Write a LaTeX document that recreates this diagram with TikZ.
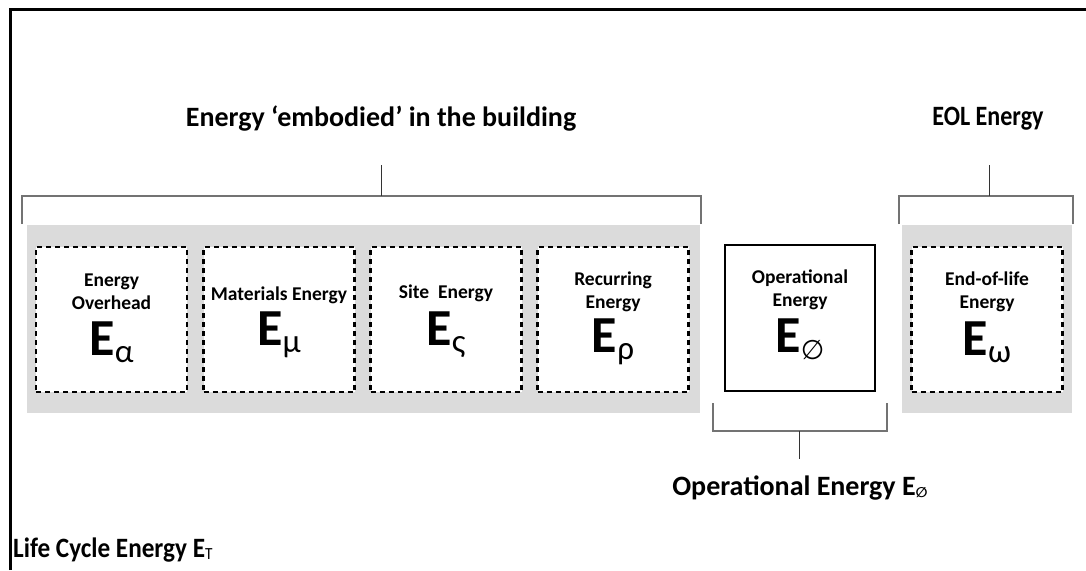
\documentclass[tikz,border=0pt]{standalone}
\usepackage{fontspec}
\setmainfont{Carlito}
\newfontfamily\symfont{DejaVu Sans}
\begin{document}
\begin{tikzpicture}[x=1pt,y=-1pt,
  frame/.style={line width=3pt,black},
  band/.style={fill=black!14,draw=none},
  dashbox/.style={draw=black,line width=2.4pt,dash pattern=on 5pt off 4pt,fill=white,
    minimum width=151pt,minimum height=145pt,inner sep=0pt},
  solidbox/.style={draw=black,line width=2.4pt,fill=white,
    minimum width=150pt,minimum height=146pt,inner sep=0pt},
  brace/.style={draw=black!55,line width=1.6pt},
  stem/.style={draw=black!80,line width=1pt},
  heading/.style={font=\fontsize{28}{32}\selectfont\bfseries,inner sep=0pt},
  label/.style={font=\fontsize{19.5}{23}\selectfont\bfseries,align=center,inner sep=0pt},
  sym/.style={inner sep=0pt}
]
\newcommand{\bigE}[1]{{\fontsize{52}{52}\selectfont\bfseries E}\raisebox{-7pt}{\fontsize{33}{33}\selectfont #1}}
\useasboundingbox (0,0) rectangle (1086,570);

% outer frame (open to the right and bottom)
\draw[frame] (10,570) -- (10,9) -- (1086,9);

% grey bands
\fill[band] (27,225) rectangle (700,413);
\fill[band] (902,225) rectangle (1072,413);

% energy boxes
\node[dashbox] (ea) at (111.5,319.5) {};
\node[dashbox] (em) at (279,319.5) {};
\node[dashbox] (es) at (446,319.5) {};
\node[dashbox] (er) at (613,319.5) {};
\node[solidbox] (eo) at (800,318) {};
\node[dashbox] (ew) at (987,319.5) {};

% box texts
\node[label] at (111.5,292) {Energy\\Overhead};
\node[sym] at (111.5,342) {\bigE{α}};
\node[label] at (279,295) {Materials Energy};
\node[sym] at (279,335) {\bigE{μ}};
\node[label] at (446,293) {Site\ \ Energy};
\node[sym] at (446,335) {\bigE{ς}};
\node[label] at (613,292) {Recurring\\Energy};
\node[sym] at (613,342) {\bigE{ρ}};
\node[label] at (800,290) {Operational\\Energy};
\node[sym] at (800,339) {\bigE{{\symfont\fontsize{27}{27}\selectfont ∅}}};
\node[label] at (987,292) {End-of-life\\Energy};
\node[sym] at (987,342) {\bigE{ω}};

% headings
\node[heading] (hemb) at (381,119) {Energy ‘embodied’ in the building};
\node[heading] (heol) at (988,119) {\scalebox{0.86}[1]{EOL Energy}};
\node[heading] (hop) at (800,488) {Operational Energy E{\symfont\fontsize{14}{14}\selectfont\raisebox{-2pt}{∅}}};
\node[heading,anchor=west] (hlc) at (13,550) {\scalebox{0.9}[1]{Life Cycle Energy E{\fontsize{17}{17}\selectfont\mdseries\raisebox{-2pt}{T}}}};

% brackets
\coordinate (b1) at (381,196);
\draw[brace] (22,224) -- (22,196) -- (701,196) -- (701,224);
\draw[stem] (381,165) -- (b1);
\coordinate (b2) at (989,196);
\draw[brace] (899,224) -- (899,196) -- (1073,196) -- (1073,224);
\draw[stem] (989,165) -- (b2);
\coordinate (b3) at (799,431);
\draw[brace] (713,403) -- (713,431) -- (887,431) -- (887,403);
\draw[stem] (b3) -- (799,459);
\end{tikzpicture}
\end{document}
